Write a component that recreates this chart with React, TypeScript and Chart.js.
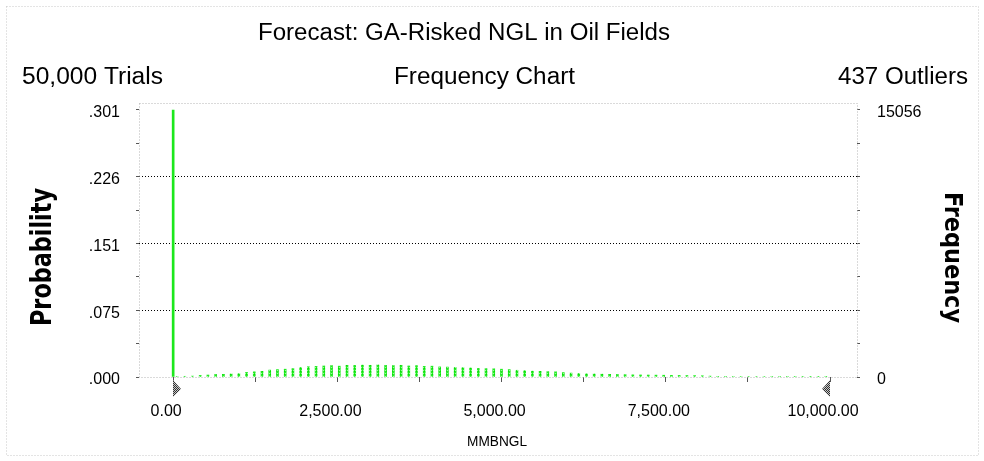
import React, { useEffect, useRef } from 'react';
import { Chart, registerables } from 'chart.js';

Chart.register(...registerables);

// ---- texts ----
const TITLE = 'Forecast: GA-Risked NGL in Oil Fields';
const TRIALS_TEXT = '50,000 Trials';
const SUBTITLE = 'Frequency Chart';
const OUTLIERS_TEXT = '437 Outliers';
const X_TITLE = 'MMBNGL';
const LEFT_TITLE = 'Probability';
const RIGHT_TITLE = 'Frequency';

// ---- data ----
const TRIALS = 50000;
const ZERO_SPIKE = 15056; // trials exactly at 0.00
const FREQ_AXIS_MAX = 15450;
const X_MIN = -520;
const X_MAX = 10410;
const X_TICKS = [0, 1250, 2500, 3750, 5000, 6250, 7500, 8750, 10000];
const X_LABEL_STEP = 2500;
const BIN_WIDTH = 117.6;
const LEFT_GRABBER = 0;
const RIGHT_GRABBER = 10000;
// frequencies of the histogram bins, starting at 0.00
const FREQUENCIES = [
  30, 40, 50, 90, 110, 140, 150, 170, 190, 260,
  290, 320, 390, 420, 440, 470, 540, 580, 600, 620,
  640, 610, 660, 650, 670, 660, 680, 650, 640, 660,
  620, 640, 600, 610, 570, 560, 540, 530, 510, 480,
  470, 460, 440, 420, 380, 360, 330, 320, 300, 290,
  250, 220, 200, 180, 170, 160, 150, 140, 130, 120,
  115, 110, 105, 100, 95, 90, 85, 80, 70, 50,
  35, 35, 30, 30, 30, 28, 28, 25, 25, 25,
  22, 22, 20, 20, 20,
];
const Y_TICK_COUNT = 8; // minor + major ticks between 0 and the spike height

const FONT = "'Liberation Sans', Arial, sans-serif";
const COND = "'DejaVu Sans Condensed', 'DejaVu Sans', sans-serif";

function fitText(
  ctx: CanvasRenderingContext2D,
  text: string,
  x: number,
  y: number,
  font: string,
  width: number,
  align: CanvasTextAlign,
  rot = 0
) {
  ctx.save();
  ctx.font = font;
  const w = ctx.measureText(text).width;
  ctx.translate(x, y);
  ctx.rotate(rot);
  ctx.scale(width / w, 1);
  ctx.textAlign = align;
  ctx.textBaseline = 'alphabetic';
  ctx.fillStyle = '#000';
  ctx.fillText(text, 0, 0);
  ctx.restore();
}

function makePattern(ctx: CanvasRenderingContext2D, w: number, h: number, cells: [number, number, string][], bg: string) {
  const c = document.createElement('canvas');
  c.width = w;
  c.height = h;
  const g = c.getContext('2d')!;
  g.fillStyle = bg;
  g.fillRect(0, 0, w, h);
  for (const [x, y, col] of cells) {
    g.fillStyle = col;
    g.fillRect(x, y, 1, 1);
  }
  return ctx.createPattern(c, 'repeat');
}

const decorPlugin = {
  id: 'decor',
  beforeDatasetsDraw(chart: any) {
    const { ctx, chartArea: a } = chart;
    ctx.save();
    ctx.strokeStyle = '#b4b4b4';
    ctx.lineWidth = 1;
    ctx.setLineDash([1, 2]);
    ctx.strokeRect(Math.round(a.left) + 0.5, Math.round(a.top) + 0.5, Math.round(a.right - a.left), Math.round(a.bottom - a.top));
    ctx.restore();
  },
  afterDraw(chart: any) {
    const { ctx, scales } = chart;
    ctx.save();
    ctx.strokeStyle = '#c8c8c8';
    ctx.lineWidth = 1;
    ctx.setLineDash([1, 2]);
    ctx.strokeRect(6.5, 6.5, 972, 449);
    ctx.restore();

    fitText(ctx, TITLE, 464, 40, `23px ${FONT}`, 412, 'center');
    fitText(ctx, TRIALS_TEXT, 22, 84, `23px ${FONT}`, 141, 'left');
    fitText(ctx, SUBTITLE, 484.5, 84, `23px ${FONT}`, 181, 'center');
    fitText(ctx, OUTLIERS_TEXT, 968, 84, `23px ${FONT}`, 130, 'right');
    fitText(ctx, X_TITLE, 497, 446, `15px ${FONT}`, 60, 'center');
    fitText(ctx, LEFT_TITLE, 51, 257, `bold 29px ${COND}`, 138, 'center', -Math.PI / 2);
    fitText(ctx, RIGHT_TITLE, 945, 257.5, `bold 24px ${COND}`, 131, 'center', Math.PI / 2);

    // certainty grabbers
    const x = scales.x;
    const base = chart.chartArea.bottom;
    const pat = makePattern(ctx, 2, 2, [[0, 0, '#303030'], [1, 1, '#303030']], '#c8c8c8');
    ctx.save();
    ctx.fillStyle = pat || '#888';
    const lx = Math.round(x.getPixelForValue(LEFT_GRABBER));
    ctx.beginPath();
    ctx.moveTo(lx, base + 3);
    ctx.lineTo(lx, base + 20);
    ctx.lineTo(lx + 8, base + 12);
    ctx.closePath();
    ctx.fill();
    const rx = Math.round(x.getPixelForValue(RIGHT_GRABBER));
    ctx.beginPath();
    ctx.moveTo(rx, base + 3);
    ctx.lineTo(rx, base + 20);
    ctx.lineTo(rx - 8, base + 12);
    ctx.closePath();
    ctx.fill();
    ctx.restore();
  },
};

function fmtX(v: number) {
  return v.toLocaleString('en-US', { minimumFractionDigits: 2, maximumFractionDigits: 2 });
}

export default function App() {
  const ref = useRef<HTMLCanvasElement | null>(null);

  useEffect(() => {
    document.body.style.margin = '0';
    const canvas = ref.current;
    if (!canvas) return;
    const ctx2d = canvas.getContext('2d')!;
    const binPattern =
      makePattern(ctx2d, 2, 3, [[1, 1, '#9af59a'], [0, 2, '#0bd60b']], '#22ee22') || '#2fe82f';
    const spikeData = [{ x: 0, y: ZERO_SPIKE }];
    const binData = FREQUENCIES.map((f, i) => ({ x: (i + 0.5) * BIN_WIDTH, y: f }));
    const probMax = FREQ_AXIS_MAX / TRIALS;
    const spikeProb = ZERO_SPIKE / TRIALS;

    const chart = new Chart(canvas, {
      type: 'bar',
      data: {
        datasets: [
          {
            data: spikeData as any,
            xAxisID: 'x',
            yAxisID: 'yF',
            backgroundColor: '#1de81d',
            barThickness: 2,
            grouped: false,
          } as any,
          {
            data: binData as any,
            xAxisID: 'x',
            yAxisID: 'yF',
            backgroundColor: binPattern,
            barThickness: 2,
            grouped: false,
          } as any,
        ],
      },
      options: {
        animation: false,
        responsive: false,
        layout: { padding: { top: 103, left: 0, right: 0, bottom: 0 } },
        plugins: {
          legend: { display: false },
          tooltip: { enabled: false },
          title: { display: false },
        },
        scales: {
          x: {
            type: 'linear',
            position: 'bottom',
            offset: false,
            min: X_MIN,
            max: X_MAX,
            afterBuildTicks: (s: any) => {
              s.ticks = X_TICKS.map((v) => ({ value: v }));
            },
            afterFit: (s: any) => {
              s.height = 84;
            },
            grid: { offset: false, drawOnChartArea: false, drawTicks: true, tickLength: 5, tickColor: '#555', color: '#555' },
            border: { display: false },
            ticks: {
              autoSkip: false,
              maxRotation: 0,
              padding: 20,
              labelOffset: -7,
              color: '#000',
              font: { family: FONT, size: 16 },
              callback: (v: any) => (Number(v) % X_LABEL_STEP === 0 ? fmtX(Number(v)) : ''),
            },
          },
          yP: {
            type: 'linear',
            position: 'left',
            min: 0,
            max: probMax,
            afterBuildTicks: (s: any) => {
              const t = [];
              for (let k = 0; k <= Y_TICK_COUNT; k++) t.push({ value: (spikeProb * k) / Y_TICK_COUNT });
              s.ticks = t;
            },
            afterFit: (s: any) => {
              s.width = 139;
            },
            grid: {
              drawOnChartArea: true,
              color: (c: any) => (c.index > 0 && c.index < Y_TICK_COUNT && c.index % 2 === 0 ? '#000' : 'rgba(0,0,0,0)'),
              tickColor: '#555',
              tickLength: 3,
            },
            border: { display: false, dash: [1, 2] },
            ticks: {
              autoSkip: false,
              padding: 16,
              labelOffset: 3,
              color: '#000',
              font: { family: FONT, size: 16 },
              callback: (v: any, i: number) =>
                i % 2 === 0 ? '.' + String(Math.round(Number(v) * 1000)).padStart(3, '0') : '',
            },
          },
          yF: {
            type: 'linear',
            position: 'right',
            min: 0,
            max: FREQ_AXIS_MAX,
            afterBuildTicks: (s: any) => {
              const t = [];
              for (let k = 0; k <= Y_TICK_COUNT; k++) t.push({ value: (ZERO_SPIKE * k) / Y_TICK_COUNT });
              s.ticks = t;
            },
            afterFit: (s: any) => {
              s.width = 127;
            },
            grid: { drawOnChartArea: false, tickColor: '#555', tickLength: 3 },
            border: { display: false },
            ticks: {
              autoSkip: false,
              padding: 17,
              labelOffset: 3,
              color: '#000',
              font: { family: FONT, size: 16 },
              callback: (v: any, i: number) =>
                i === 0 ? '0' : i === Y_TICK_COUNT ? String(ZERO_SPIKE) : '',
            },
          },
        },
      } as any,
      plugins: [decorPlugin],
    });
    return () => chart.destroy();
  }, []);

  return (
    <div style={{ position: 'fixed', left: 0, top: 0, width: 984, height: 461, background: '#fff' }}>
      <canvas ref={ref} width={984} height={461} style={{ display: 'block' }} />
    </div>
  );
}
